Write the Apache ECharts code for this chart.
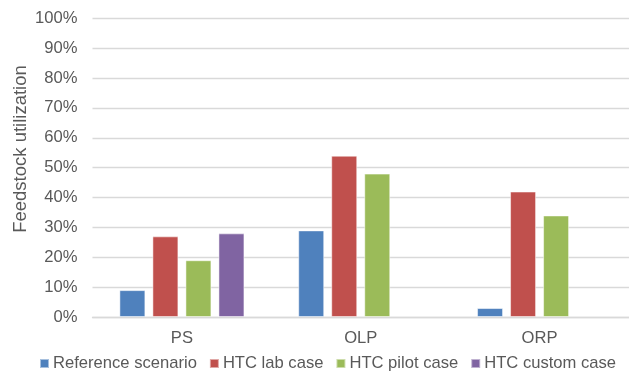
<!DOCTYPE html>
<html>
<head>
<meta charset="utf-8">
<script src="https://cdn.jsdelivr.net/npm/echarts@6/dist/echarts.min.js"></script>
<style>
html,body{margin:0;padding:0;background:#fff;}
#chart{width:629px;height:372px;}
</style>
</head>
<body>
<div id="chart"></div>
<script>
const categories = ['PS', 'OLP', 'ORP'];
const seriesNames = ['Reference scenario', 'HTC lab case', 'HTC pilot case', 'HTC custom case'];
const referenceScenario = [9, 29, 3];
const htcLab = [27, 54, 42];
const htcPilot = [19, 48, 34];
const htcCustom = [28, null, null];
const colors = ['#4F81BD', '#C0504D', '#9BBB59', '#8064A2'];
const yTicks = [0, 10, 20, 30, 40, 50, 60, 70, 80, 90, 100];

const values = [referenceScenario, htcLab, htcPilot, htcCustom];
const font = '"Liberation Sans", Arial, sans-serif';
const fs = 16.6;

const chart = echarts.init(document.getElementById('chart'), null, {renderer: 'canvas'});
chart.setOption({
  animation: false,
  color: colors,
  grid: {left: 92.5, top: 18.3, width: 543, height: 298.7, containLabel: false},
  legend: {
    left: 34, top: 350,
    itemWidth: 9, itemHeight: 9, itemGap: 12,
    icon: 'rect',
    textStyle: {fontFamily: font, fontSize: fs, color: '#595959', padding: [0, 0, 0, -1]},
    data: seriesNames
  },
  graphic: [{
    type: 'text', x: 21, y: 149, rotation: Math.PI / 2,
    style: {text: 'Feedstock utilization', font: '18.5px ' + font, fill: '#595959', align: 'center', verticalAlign: 'middle'}
  }],
  xAxis: {
    type: 'category', data: categories,
    axisLine: {lineStyle: {color: '#D9D9D9', width: 1.3}},
    axisTick: {show: false},
    axisLabel: {fontFamily: font, fontSize: fs, color: '#595959', margin: 13}
  },
  yAxis: {
    type: 'value', min: yTicks[0], max: yTicks[yTicks.length - 1], interval: 10,
    axisLine: {show: false}, axisTick: {show: false},
    splitLine: {lineStyle: {color: '#D9D9D9', width: 1.3}},
    axisLabel: {fontFamily: font, fontSize: fs, color: '#595959', margin: 15, formatter: v => v + '%'}
  },
  series: seriesNames.map((name, i) => ({
    name: name, type: 'bar', data: values[i],
    barWidth: 26, barGap: '27%',
    itemStyle: {color: colors[i], borderColor: 'rgba(255,255,255,0.5)', borderWidth: 1}
  }))
});
</script>
</body>
</html>
